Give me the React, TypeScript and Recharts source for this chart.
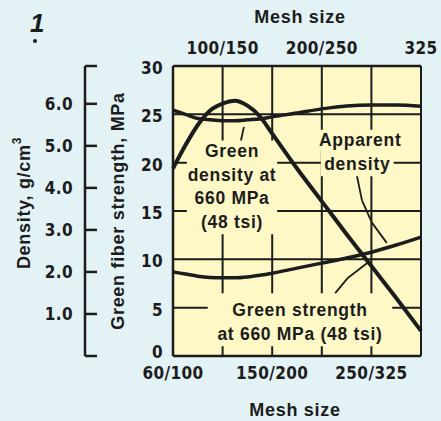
import React from 'react';
import { LineChart, Line, XAxis, YAxis, CartesianGrid, ReferenceArea, ReferenceLine } from 'recharts';

// mesh size position along the axis (0 = 60/100 ... 5 = 325)
const meshPos = [0, 0.25, 0.5, 0.75, 1, 1.25, 1.5, 1.75, 2, 2.5, 3, 3.5, 4, 4.5, 5];
// green strength at 660 MPa, MPa
const greenStrength = [19.4, 21.8, 23.9, 25.4, 26.1, 26.4, 25.9, 24.8, 23.0, 19.4, 16.0, 12.6, 9.3, 6.0, 2.6];
// green density at 660 MPa, g/cm3
const greenDensity = [5.85, 5.75, 5.65, 5.62, 5.6, 5.6, 5.62, 5.64, 5.69, 5.78, 5.88, 5.95, 5.97, 5.97, 5.94];
// apparent density, g/cm3
const apparentDensity = [2.0, 1.95, 1.9, 1.87, 1.86, 1.86, 1.88, 1.92, 1.97, 2.09, 2.21, 2.33, 2.47, 2.64, 2.83];

const bottomTicks = [0, 1, 2, 3, 4, 5];
const bottomLabels = ['60/100', '', '150/200', '', '250/325', ''];
const topTicks = [1, 3, 5];
const topLabels = ['100/150', '200/250', '325'];
const strengthTicks = [0, 5, 10, 15, 20, 25, 30];
const densityTicks = [0, 1, 2, 3, 4, 5, 6, 6.9];
const densityLabels = ['', '1.0', '2.0', '3.0', '4.0', '5.0', '6.0', ''];
const ksiTicks = [1, 2, 3, 4];

const data = meshPos.map((x, i) => ({
  x,
  strength: greenStrength[i],
  gDen: greenDensity[i],
  aDen: apparentDensity[i],
}));

const INK = '#1c1c1c';
const PLOT_BG = '#fdf8c6';
const PAGE_BG = '#e2f2f5';
const NARROW = "'Liberation Sans Narrow', 'Arial Narrow', 'DejaVu Sans Condensed', sans-serif";
const SANS = "'Liberation Sans', Arial, sans-serif";
const tickFont = { fontFamily: NARROW, fontWeight: 700, fontSize: 17, fill: INK, letterSpacing: 0.4 };
const titleFont = { fontFamily: SANS, fontWeight: 700, fontSize: 18, fill: INK, letterSpacing: 0.7 };

const axisTitle = (text: string, place: string) => (props: any) => {
  const vb = props.viewBox || { x: 0, y: 0, width: 0, height: 0 };
  if (place === 'bottom') {
    return <text x={vb.x + vb.width / 2 - 2} y={vb.y + vb.height - 5} textAnchor="middle" {...titleFont}>{text}</text>;
  }
  if (place === 'top') {
    return <text x={vb.x + vb.width / 2 + 3} y={vb.y + 23} textAnchor="middle" {...titleFont}>{text}</text>;
  }
  if (place === 'strength') {
    const cx = vb.x + 33;
    const cy = vb.y + vb.height / 2;
    return (
      <text x={cx} y={cy} transform={`rotate(-90, ${cx}, ${cy})`} textAnchor="middle" dominantBaseline="central" {...titleFont}>
        {text}
      </text>
    );
  }
  const cx = vb.x + 24;
  const cy = vb.y + vb.height / 2 - 8;
  return (
    <text x={cx} y={cy} transform={`rotate(-90, ${cx}, ${cy})`} textAnchor="middle" dominantBaseline="central" {...titleFont}>
      {text}
      <tspan dy={-7} fontSize={12}>3</tspan>
    </text>
  );
};

const StrengthTick = (props: any) => {
  const { x, y, payload } = props;
  // the zero label sits a little above the base line so it clears the mesh labels
  const dy = payload.value === 0 ? -4 : 2;
  return (
    <text x={x} y={y + dy} dy="0.36em" textAnchor="end" {...tickFont}>{payload.value}</text>
  );
};

const DensityTick = (props: any) => {
  const { x, y, payload } = props;
  const idx = densityTicks.indexOf(payload.value);
  return (
    <g>
      <line x1={x} x2={x + 12} y1={y} y2={y} stroke={INK} strokeWidth={2.5} />
      <text x={x - 12} y={y} dy="0.36em" textAnchor="end" {...tickFont}>{densityLabels[idx]}</text>
    </g>
  );
};

const boxText = (lines: string[], first: number, step: number) => (props: any) => {
  const vb = props.viewBox || { x: 0, y: 0, width: 0, height: 0 };
  const cx = vb.x + vb.width / 2;
  return (
    <text textAnchor="middle" {...titleFont} fontSize={17.5}>
      {lines.map((l, i) => (
        <tspan key={i} x={cx} y={vb.y + first + i * step}>{l}</tspan>
      ))}
    </text>
  );
};

const pointer = { stroke: INK, strokeWidth: 1.8 };

export default function App() {
  return (
    <div style={{ position: 'absolute', left: 0, top: 0, width: 441, height: 421, background: PAGE_BG }}>
      <div style={{ position: 'absolute', left: 30, top: 8, fontFamily: SANS, fontWeight: 700, fontStyle: 'italic', fontSize: 26, color: INK }}>1</div>
      <div style={{ position: 'absolute', left: 33, top: 39, width: 4, height: 4, borderRadius: 2, background: INK }} />
      <LineChart width={441} height={421} data={data} margin={{ top: 0, right: 20, bottom: 0, left: 0 }}>
        <CartesianGrid xAxisId="bottom" yAxisId="mpa" fill={PLOT_BG} fillOpacity={1} stroke={INK} strokeWidth={2} />
        <XAxis
          xAxisId="bottom"
          dataKey="x"
          type="number"
          domain={[0, 5]}
          ticks={bottomTicks}
          tickFormatter={(v: number) => bottomLabels[bottomTicks.indexOf(v)]}
          interval={0}
          height={65}
          tickLine={false}
          tickMargin={5}
          axisLine={{ stroke: INK, strokeWidth: 2.5 }}
          tick={tickFont}
          label={{ content: axisTitle('Mesh size', 'bottom') }}
        />
        <XAxis
          xAxisId="top"
          dataKey="x"
          orientation="top"
          type="number"
          domain={[0, 5]}
          allowDataOverflow
          ticks={topTicks}
          tickFormatter={(v: number) => topLabels[topTicks.indexOf(v)]}
          interval={0}
          height={66}
          tickLine={false}
          tickMargin={6}
          axisLine={{ stroke: INK, strokeWidth: 2.5 }}
          tick={tickFont}
          label={{ content: axisTitle('Mesh size', 'top') }}
        />
        <YAxis
          yAxisId="mpa"
          type="number"
          domain={[0, 30]}
          ticks={strengthTicks}
          interval={0}
          width={88}
          tickLine={false}
          tickMargin={4}
          axisLine={{ stroke: INK, strokeWidth: 2.5 }}
          tick={<StrengthTick />}
          label={{ content: axisTitle('Green fiber strength, MPa', 'strength') }}
        />
        <YAxis
          yAxisId="rho"
          type="number"
          domain={[0, 6.9]}
          allowDataOverflow
          ticks={densityTicks}
          interval={0}
          width={85}
          tickLine={false}
          tickSize={0}
          tickMargin={0}
          axisLine={{ stroke: INK, strokeWidth: 2.5 }}
          tick={<DensityTick />}
          label={{ content: axisTitle('Density, g/cm', 'density') }}
        />
        <YAxis
          yAxisId="ksi"
          orientation="right"
          mirror
          type="number"
          domain={[0, 30 / 6.895]}
          allowDataOverflow
          ticks={ksiTicks}
          interval={0}
          width={0}
          tick={false}
          tickSize={11}
          tickLine={{ stroke: INK, strokeWidth: 2 }}
          axisLine={{ stroke: INK, strokeWidth: 2.5 }}
        />

        <ReferenceArea xAxisId="bottom" yAxisId="mpa" x1={0.28} x2={2.1} y1={12.6} y2={22.3} fill={PLOT_BG} fillOpacity={1} stroke="none"
          label={{ content: boxText(['Green', 'density at', '660 MPa', '(48 tsi)'], 16.6, 23.5) }} />
        <ReferenceArea xAxisId="bottom" yAxisId="mpa" x1={2.87} x2={4.68} y1={21.2} y2={23.4} fill={PLOT_BG} fillOpacity={1} stroke="none"
          label={{ content: boxText(['Apparent'], 16.5, 24) }} />
        <ReferenceArea xAxisId="bottom" yAxisId="mpa" x1={2.98} x2={4.45} y1={18.6} y2={21.2} fill={PLOT_BG} fillOpacity={1} stroke="none"
          label={{ content: boxText(['density'], 19, 24) }} />
        <ReferenceArea xAxisId="bottom" yAxisId="mpa" x1={0.7} x2={4.42} y1={1.0} y2={6.5} fill={PLOT_BG} fillOpacity={1} stroke="none"
          label={{ content: boxText(['Green strength', 'at 660 MPa (48 tsi)'], 23, 24) }} />

        <ReferenceLine xAxisId="bottom" yAxisId="mpa" segment={[{ x: 1.37, y: 22.3 }, { x: 1.43, y: 23.7 }]} {...pointer} />
        <ReferenceLine xAxisId="bottom" yAxisId="mpa" segment={[{ x: 3.71, y: 18.6 }, { x: 3.81, y: 16.1 }]} {...pointer} />
        <ReferenceLine xAxisId="bottom" yAxisId="mpa" segment={[{ x: 3.81, y: 16.1 }, { x: 4.01, y: 13.8 }]} {...pointer} />
        <ReferenceLine xAxisId="bottom" yAxisId="mpa" segment={[{ x: 4.01, y: 13.8 }, { x: 4.31, y: 11.7 }]} {...pointer} />
        <ReferenceLine xAxisId="bottom" yAxisId="mpa" segment={[{ x: 3.27, y: 6.5 }, { x: 3.53, y: 8.1 }]} {...pointer} />
        <ReferenceLine xAxisId="bottom" yAxisId="mpa" segment={[{ x: 3.53, y: 8.1 }, { x: 3.91, y: 9.6 }]} {...pointer} />

        <Line xAxisId="bottom" yAxisId="mpa" dataKey="strength" type="monotone" stroke={INK} strokeWidth={4} dot={false} isAnimationActive={false} />
        <Line xAxisId="bottom" yAxisId="rho" dataKey="gDen" type="monotone" stroke={INK} strokeWidth={3.5} dot={false} isAnimationActive={false} />
        <Line xAxisId="bottom" yAxisId="rho" dataKey="aDen" type="monotone" stroke={INK} strokeWidth={3.5} dot={false} isAnimationActive={false} />
      </LineChart>
    </div>
  );
}
